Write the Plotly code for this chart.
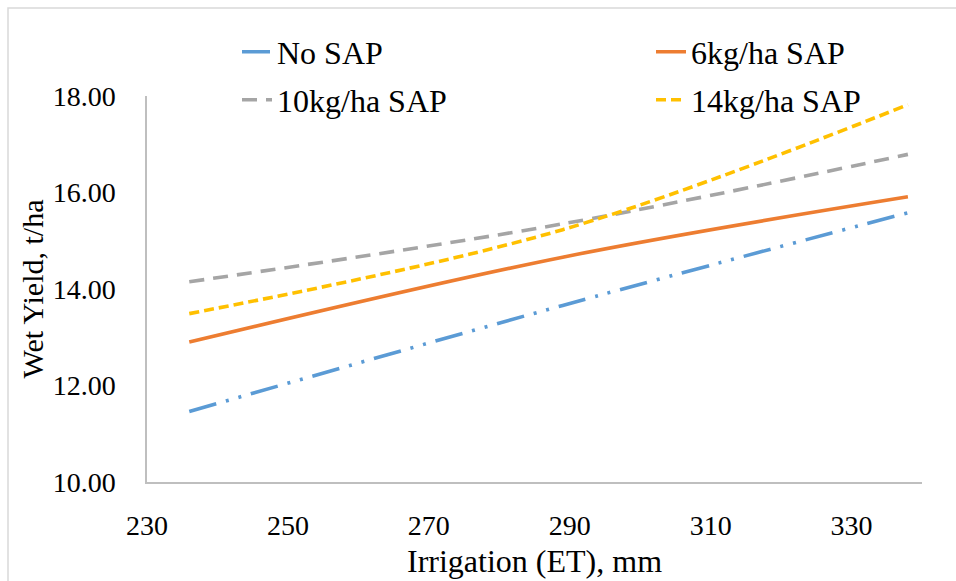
import plotly.graph_objects as go

# Data
irrigation = [236, 289, 338]
no_sap = [11.46, 13.66, 15.58]
sap_6 = [12.90, 14.66, 15.91]
sap_10 = [14.15, 15.35, 16.79]
sap_14 = [13.49, 15.23, 17.82]

series_names = ["No SAP", "6kg/ha SAP", "10kg/ha SAP", "14kg/ha SAP"]
series_values = [no_sap, sap_6, sap_10, sap_14]
series_colors = ["#5B9BD5", "#ED7D31", "#A5A5A5", "#FFC000"]
series_dash = ["28px,10px,3px,10px,3px,10px", "solid", "15px,9px", "10px,5px"]

x_ticks = [230, 250, 270, 290, 310, 330]
y_ticks = [10, 12, 14, 16, 18]

W, H = 956, 581
ML, MR, MT, MB = 147, 34, 96, 99
PW, PH = W - ML - MR, H - MT - MB

def px_x(p):
    return (p - ML) / PW

def px_y(p):
    return (H - MB - p) / PH

FONT = "Liberation Serif"

fig = go.Figure()
legend_ids = ["legend", "legend2", "legend3", "legend4"]
for name, vals, col, dash, lid in zip(series_names, series_values, series_colors, series_dash, legend_ids):
    fig.add_trace(go.Scatter(
        x=irrigation, y=vals, name=name, mode="lines",
        line=dict(color=col, width=3.6, dash=dash, shape="spline", smoothing=1),
        legend=lid,
    ))

# legend positions (pixel anchors of entries)
leg_pos = [(237, 52), (651, 52), (237, 100), (651, 100)]
leg_layout = {}
for lid, (lx, ly) in zip(legend_ids, leg_pos):
    leg_layout[lid] = dict(
        x=px_x(lx), y=px_y(ly), xanchor="left", yanchor="middle",
        font=dict(family=FONT, size=32, color="black"),
        bgcolor="rgba(0,0,0,0)", borderwidth=0,
    )

fig.update_layout(
    width=W, height=H,
    margin=dict(l=ML, r=MR, t=MT, b=MB, autoexpand=False),
    paper_bgcolor="white", plot_bgcolor="white",
    showlegend=True,
    font=dict(family=FONT, color="black"),
    **leg_layout,
)

fig.update_xaxes(
    range=[230, 340], tickvals=x_ticks, ticktext=[str(v) for v in x_ticks],
    showgrid=False, zeroline=False, showline=True, linecolor="#BFBFBF", linewidth=1.5,
    ticks="", ticklabelstandoff=18,
    tickfont=dict(family=FONT, size=28, color="black"),
    title=dict(text="Irrigation (ET), mm", font=dict(family=FONT, size=32, color="black"), standoff=9),
)
fig.update_yaxes(
    range=[10, 18], tickvals=y_ticks, tickformat=".2f",
    showgrid=False, zeroline=False, showline=True, linecolor="#BFBFBF", linewidth=1.5,
    ticks="", ticklabelstandoff=24,
    tickfont=dict(family=FONT, size=28, color="black"),
    title=dict(text="Wet Yield, t/ha", font=dict(family=FONT, size=30, color="black"), standoff=0),
)

# outer chart border
fig.add_shape(type="rect", xref="paper", yref="paper",
              x0=px_x(8), x1=px_x(1000), y0=px_y(640), y1=px_y(8),
              line=dict(color="#D9D9D9", width=1.5), fillcolor="rgba(0,0,0,0)", layer="below")

fig.write_html("out.html", config={"displayModeBar": False},
               post_script="document.body.style.margin='0';document.body.style.overflow='hidden';")
